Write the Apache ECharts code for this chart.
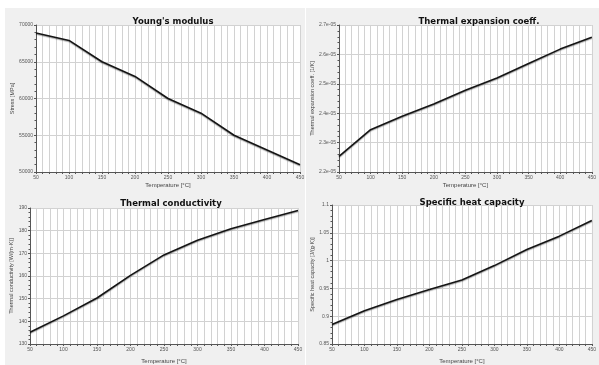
<!DOCTYPE html>
<html>
<head>
<meta charset="utf-8">
<script src="https://cdn.jsdelivr.net/npm/echarts@6/dist/echarts.min.js"></script>
<style>
  html, body { margin: 0; padding: 0; background: #fff; }
  #chart { width: 599px; height: 365px; }
</style>
</head>
<body>
<div id="chart"></div>
<script>
// temperature steps shared by all four panels
const temps = [50, 100, 150, 200, 250, 300, 350, 400, 450];

// values
const youngs = [68900, 67900, 65000, 63000, 60000, 58000, 55000, 53000, 51000];
const expansion = [2.253e-5, 2.344e-5, 2.39e-5, 2.431e-5, 2.478e-5, 2.52e-5, 2.569e-5, 2.618e-5, 2.658e-5];
const conductivity = [135.2, 142.4, 150.3, 160.3, 169.3, 175.8, 180.8, 184.9, 188.9];
const heatCap = [0.885, 0.91, 0.93, 0.948, 0.965, 0.991, 1.02, 1.044, 1.072];

const titles = ["Young's modulus", "Thermal expansion coeff.", "Thermal conductivity", "Specific heat capacity"];
const yNames = ["Stress [MPa]", "Thermal expansion coeff. [1/K]", "Thermal conductivity [W/(m·K)]", "Specific heat capacity [J/(g·K)]"];

const FONT = "'Liberation Sans', Arial, sans-serif";
const gridLine = "#d2d2d2";
const axisCol = "#555";

const grids = [
  { left: 36, top: 25, width: 264, height: 147 },
  { left: 339, top: 25, width: 260, height: 147 },
  { left: 30, top: 208, width: 268, height: 146 },
  { left: 332, top: 205, width: 267, height: 147 },
];

const yScales = [
  { min: 50000, max: 70000, interval: 5000, fmt: (v) => String(v) },
  { min: 2.2e-5, max: 2.7e-5, interval: 1e-6, fmt: (v) => v.toExponential(1).replace(/e-(\d)$/, "e-0$1") },
  { min: 130, max: 190, interval: 10, fmt: (v) => String(v) },
  { min: 0.85, max: 1.1, interval: 0.05, fmt: (v) => String(+v.toFixed(2)) },
];

const seriesData = [youngs, expansion, conductivity, heatCap];

function pair(arr) {
  return temps.map((t, i) => [t, arr[i]]);
}

const chart = echarts.init(document.getElementById("chart"), null, { renderer: "canvas" });

chart.setOption({
  backgroundColor: "#f0f0f0",
  animation: false,
  graphic: [
    { type: "rect", shape: { x: 0, y: 0, width: 599, height: 8 }, style: { fill: "#fff" }, z: -10 },
    { type: "rect", shape: { x: 0, y: 0, width: 5, height: 365 }, style: { fill: "#fff" }, z: -10 },
    { type: "rect", shape: { x: 305, y: 0, width: 1, height: 365 }, style: { fill: "#fff" }, z: -10 },
  ],
  title: [
    { text: titles[0], left: 168, top: 12, textAlign: "center" },
    { text: titles[1], left: 474, top: 12, textAlign: "center" },
    { text: titles[2], left: 166, top: 194, textAlign: "center" },
    { text: titles[3], left: 467, top: 193, textAlign: "center" },
  ].map((t) => ({
    ...t,
    textStyle: { fontFamily: "'DejaVu Sans', Verdana, sans-serif", fontSize: 8.5, fontWeight: "bold", color: "#111" },
  })),
  grid: grids.map((g) => ({ ...g, show: true, backgroundColor: "#fff", borderWidth: 0, containLabel: false })),
  xAxis: grids.map((g, i) => ({
    gridIndex: i,
    type: "value",
    min: 50,
    max: 450,
    interval: 50,
    name: "Temperature [°C]",
    nameLocation: "middle",
    nameGap: i < 2 ? 10 : 14,
    nameTextStyle: { fontFamily: FONT, fontSize: 6, color: "#444" },
    axisLine: { show: true, lineStyle: { color: axisCol, width: 1 } },
    axisTick: { show: true, length: 2, lineStyle: { color: axisCol } },
    minorTick: { show: true, splitNumber: 5, length: 2, lineStyle: { color: axisCol } },
    axisLabel: { fontFamily: FONT, fontSize: 5, color: "#555", margin: 3 },
    splitLine: { show: true, lineStyle: { color: gridLine, width: 1 } },
    minorSplitLine: { show: true, lineStyle: { color: gridLine, width: 1 } },
  })),
  yAxis: yScales.map((s, i) => ({
    gridIndex: i,
    type: "value",
    min: s.min,
    max: s.max,
    interval: s.interval,
    name: yNames[i],
    nameLocation: "middle",
    nameGap: i === 0 ? 21 : i === 1 ? 23 : 16,
    nameTextStyle: { fontFamily: FONT, fontSize: 5.5, color: "#444" },
    axisLine: { show: true, lineStyle: { color: axisCol, width: 1 } },
    axisTick: { show: true, length: 2, lineStyle: { color: axisCol } },
    minorTick: { show: true, splitNumber: 5, length: 1.5, lineStyle: { color: axisCol } },
    axisLabel: { fontFamily: FONT, fontSize: 5, color: "#555", margin: 3, formatter: s.fmt },
    splitLine: { show: true, lineStyle: { color: gridLine, width: 1 } },
  })),
  series: seriesData.map((d, i) => ({
    type: "line",
    xAxisIndex: i,
    yAxisIndex: i,
    data: pair(d),
    showSymbol: false,
    lineStyle: { color: "#151515", width: 1.6, shadowColor: "rgba(0,0,0,0.35)", shadowBlur: 1, shadowOffsetY: 1 },
  })),
});
</script>
</body>
</html>
